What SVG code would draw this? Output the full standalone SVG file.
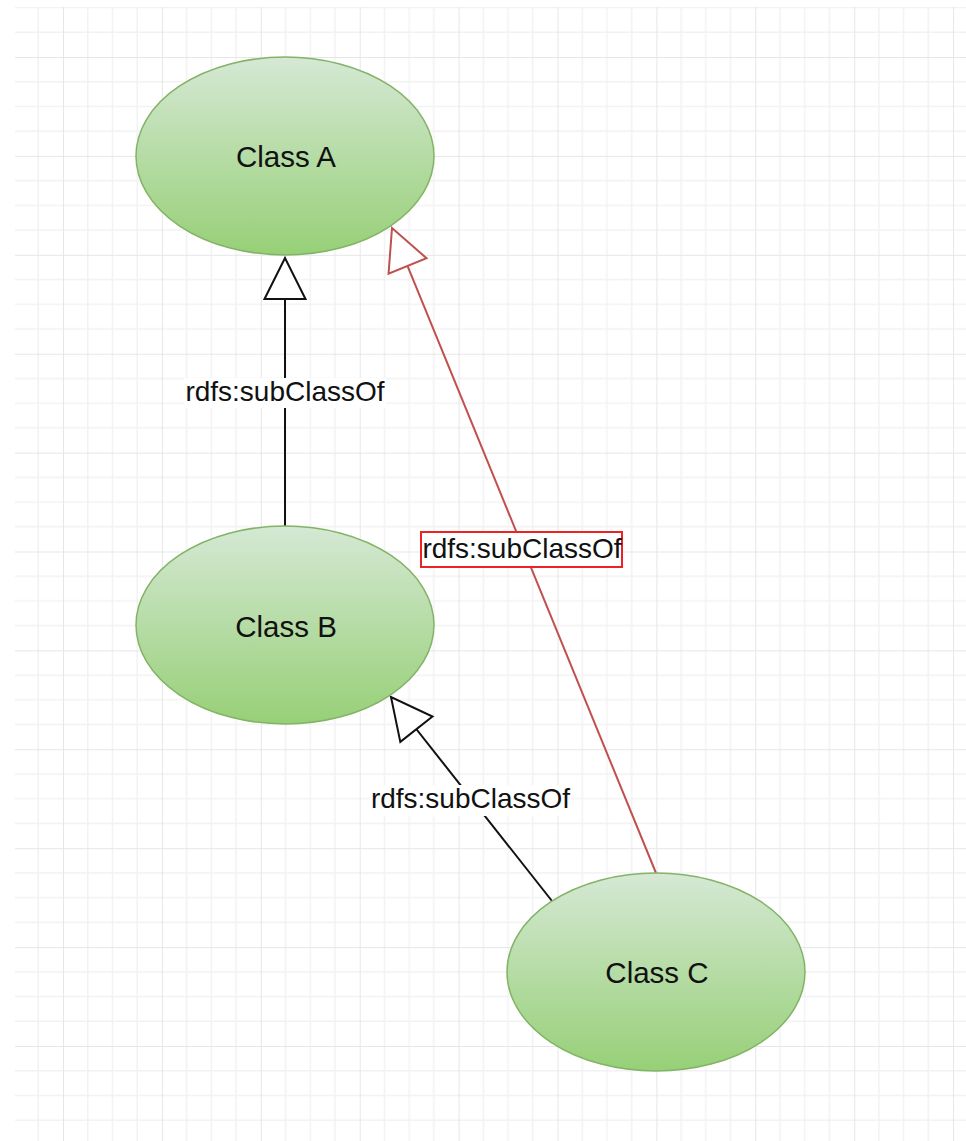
<svg xmlns="http://www.w3.org/2000/svg" width="966" height="1141" viewBox="0 0 966 1141">
<style>
.node{stroke:#82b366;stroke-width:1.5;fill:url(#g)}
.nt{font-family:"Liberation Sans",Arial,sans-serif;font-size:29.5px;fill:#111;text-anchor:middle}
.lt{font-family:"Liberation Sans",Arial,sans-serif;font-size:28px;fill:#111;text-anchor:middle}
.edge{fill:none;stroke-width:2}
</style>
<defs>
<linearGradient id="g" x1="0" y1="0" x2="0" y2="1">
<stop offset="0" stop-color="#d5e8d4"/>
<stop offset="1" stop-color="#97d077"/>
</linearGradient>
<pattern id="grid" patternUnits="userSpaceOnUse" x="63" y="57" width="98.9" height="98.9">
<path d="M24.725 0V98.9M49.45 0V98.9M74.175 0V98.9M0 24.725H98.9M0 49.45H98.9M0 74.175H98.9" stroke="#f2f2f2" stroke-width="1.5" fill="none"/>
<path d="M0 0V98.9M0 0H98.9" stroke="#e6e6e6" stroke-width="2" fill="none"/>
</pattern>
<marker id="tb" markerUnits="userSpaceOnUse" viewBox="0 0 46 46" refX="44" refY="23" markerWidth="46" markerHeight="46" orient="auto">
<path d="M3 2.5L44 23L3 43.5Z" fill="#fff" stroke="#111" stroke-width="2"/>
</marker>
<marker id="tr" markerUnits="userSpaceOnUse" viewBox="0 0 46 46" refX="44" refY="23" markerWidth="46" markerHeight="46" orient="auto">
<path d="M3 2.5L44 23L3 43.5Z" fill="#fff" stroke="#c0504d" stroke-width="2"/>
</marker>
</defs>
<rect width="966" height="1141" fill="#fff"/>
<rect x="15" y="7" width="951" height="1134" fill="url(#grid)"/>
<g id="connectors">
<g id="e-b-a">
<path class="edge" d="M285 526V258" stroke="#111" marker-end="url(#tb)"/>
<rect x="184" y="378" width="202" height="30" fill="#fff"/>
<text class="lt" x="285" y="401">rdfs:subClassOf</text>
</g>
<g id="e-c-b">
<path class="edge" d="M552 901L391 697" stroke="#111" marker-end="url(#tb)"/>
<rect x="370" y="785" width="201" height="31" fill="#fff"/>
<text class="lt" x="470.5" y="808">rdfs:subClassOf</text>
</g>
<g id="e-c-a">
<path class="edge" d="M656 873L392 228" stroke="#c0504d" marker-end="url(#tr)"/>
<rect x="421" y="532" width="201" height="35" fill="#fff" stroke="#ee2222" stroke-width="2"/>
<text class="lt" x="522" y="558">rdfs:subClassOf</text>
</g>
</g>
<g id="classA">
<ellipse class="node" cx="285" cy="156" rx="149" ry="99"/>
<text class="nt" x="286" y="167">Class A</text>
</g>
<g id="classB">
<ellipse class="node" cx="285" cy="625" rx="149" ry="99"/>
<text class="nt" x="286" y="637">Class B</text>
</g>
<g id="classC">
<ellipse class="node" cx="656" cy="972" rx="149" ry="99"/>
<text class="nt" x="657" y="983">Class C</text>
</g>
</svg>
